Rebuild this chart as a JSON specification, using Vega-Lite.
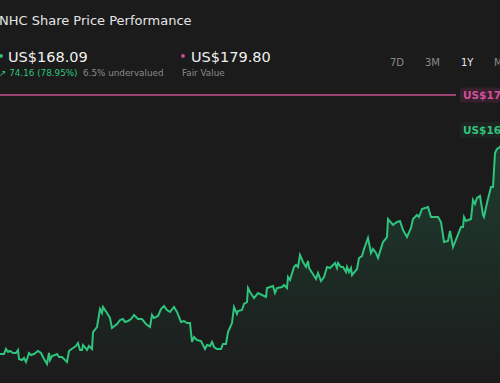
{
  "$schema": "https://vega.github.io/schema/vega-lite/v6.json",
  "width": 500,
  "height": 383,
  "padding": 0,
  "autosize": {"type": "none"},
  "background": "#1b1b1b",
  "config": {"view": {"stroke": null}, "text": {"font": "DejaVu Sans"}},
  "datasets": {
    "prices": [
      {"day":0,"price":94.27},{"day":4,"price":94.27},{"day":6,"price":95.92},{"day":8,"price":94.93},{"day":10,"price":95.26},
      {"day":13,"price":94.6},{"day":16,"price":94.6},{"day":18,"price":95.59},{"day":19,"price":92.61},{"day":22,"price":92.28},
      {"day":24,"price":92.94},{"day":26,"price":91.62},{"day":29,"price":94.6},{"day":31,"price":93.93},{"day":34,"price":94.27},
      {"day":38,"price":95.26},{"day":41,"price":94.6},{"day":44,"price":92.61},{"day":47,"price":90.96},{"day":49,"price":94.6},
      {"day":50,"price":92.28},{"day":52,"price":93.6},{"day":55,"price":93.93},{"day":57,"price":94.27},{"day":59,"price":93.27},
      {"day":62,"price":93.27},{"day":67,"price":91.62},{"day":69,"price":95.26},{"day":73,"price":96.25},{"day":76,"price":96.91},
      {"day":78,"price":97.9},{"day":80,"price":95.59},{"day":82,"price":95.59},{"day":83,"price":97.24},{"day":87,"price":95.59},
      {"day":89,"price":96.91},{"day":92,"price":95.92},{"day":93,"price":101.53},{"day":97,"price":103.18},{"day":100,"price":109.13},
      {"day":102,"price":107.81},{"day":103,"price":109.79},{"day":107,"price":107.81},{"day":110,"price":106.15},{"day":112,"price":102.85},
      {"day":117,"price":104.17},{"day":120,"price":105.49},{"day":123,"price":105.82},{"day":125,"price":104.83},{"day":128,"price":105.16},
      {"day":131,"price":105.82},{"day":134,"price":107.14},{"day":138,"price":105.82},{"day":142,"price":105.82},{"day":146,"price":104.17},
      {"day":150,"price":103.18},{"day":152,"price":107.14},{"day":154,"price":106.15},{"day":158,"price":106.81},{"day":161,"price":109.13},
      {"day":164,"price":110.12},{"day":167,"price":108.8},{"day":170,"price":108.14},{"day":174,"price":109.79},{"day":177,"price":108.14},
      {"day":181,"price":104.83},{"day":184,"price":105.16},{"day":187,"price":104.5},{"day":190,"price":104.5},{"day":192,"price":98.23},
      {"day":194,"price":99.88},{"day":197,"price":98.89},{"day":201,"price":98.56},{"day":205,"price":95.92},{"day":207,"price":97.24},
      {"day":210,"price":96.91},{"day":212,"price":98.23},{"day":214,"price":96.58},{"day":217,"price":95.92},{"day":221,"price":95.92},
      {"day":223,"price":97.57},{"day":226,"price":97.57},{"day":228,"price":101.53},{"day":232,"price":104.5},{"day":234,"price":109.79},
      {"day":237,"price":107.48},{"day":238,"price":108.47},{"day":242,"price":108.8},{"day":244,"price":110.78},{"day":247,"price":111.44},
      {"day":248,"price":116.06},{"day":250,"price":114.74},{"day":254,"price":112.76},{"day":258,"price":114.41},{"day":266,"price":113.09},
      {"day":267,"price":116.06},{"day":273,"price":116.72},{"day":275,"price":114.41},{"day":277,"price":116.06},{"day":282,"price":116.39},
      {"day":284,"price":117.05},{"day":287,"price":116.06},{"day":288,"price":119.69},{"day":290,"price":118.7},{"day":294,"price":123.0},
      {"day":296,"price":123.66},{"day":298,"price":123.0},{"day":300,"price":126.96},{"day":303,"price":124.65},{"day":306,"price":123.0},
      {"day":308,"price":124.98},{"day":309,"price":122.67},{"day":316,"price":119.03},{"day":318,"price":121.02},{"day":321,"price":118.37},
      {"day":324,"price":119.69},{"day":327,"price":123.0},{"day":330,"price":122.67},{"day":335,"price":124.32},{"day":337,"price":122.67},
      {"day":338,"price":124.32},{"day":341,"price":123.0},{"day":343,"price":123.0},{"day":346,"price":121.35},{"day":347,"price":123.0},
      {"day":349,"price":121.35},{"day":351,"price":122.67},{"day":352,"price":120.35},{"day":357,"price":122.34},{"day":359,"price":125.97},
      {"day":362,"price":126.63},{"day":364,"price":128.94},{"day":368,"price":132.57},{"day":371,"price":127.62},{"day":373,"price":128.94},
      {"day":376,"price":127.62},{"day":378,"price":125.97},{"day":383,"price":131.25},{"day":387,"price":132.9},{"day":388,"price":138.85},
      {"day":393,"price":136.87},{"day":397,"price":137.86},{"day":400,"price":138.19},{"day":403,"price":135.22},{"day":407,"price":132.9},
      {"day":411,"price":135.88},{"day":413,"price":138.85},{"day":417,"price":140.17},{"day":419,"price":139.51},{"day":422,"price":142.15},
      {"day":428,"price":142.81},{"day":431,"price":139.51},{"day":438,"price":139.51},{"day":441,"price":137.86},{"day":444,"price":131.25},
      {"day":448,"price":131.58},{"day":450,"price":134.89},{"day":453,"price":129.6},{"day":457,"price":132.9},{"day":461,"price":136.21},
      {"day":463,"price":136.21},{"day":464,"price":139.51},{"day":466,"price":138.19},{"day":471,"price":138.85},{"day":473,"price":145.12},
      {"day":475,"price":143.8},{"day":477,"price":145.78},{"day":480,"price":146.44},{"day":483,"price":140.17},{"day":484,"price":139.51},
      {"day":487,"price":144.13},{"day":491,"price":149.42},{"day":493,"price":149.42},{"day":495,"price":160.65},{"day":497,"price":161.97},
      {"day":500,"price":162.63},{"day":503,"price":164.5},{"day":506,"price":168.09}
    ]
  },
  "layer": [
    {
      "data": {"name": "prices"},
      "mark": {"type": "area", "clip": true, "color": {"gradient": "linear", "x1": 0, "y1": 0, "x2": 0, "y2": 1,
        "stops": [{"offset": 0, "color": "rgba(46,194,126,0.22)"}, {"offset": 1, "color": "rgba(46,194,126,0)"}]}},
      "encoding": {
        "x": {"field": "day", "type": "quantitative", "scale": {"domain": [0, 500], "nice": false, "zero": false}, "axis": null},
        "y": {"field": "price", "type": "quantitative", "scale": {"domain": [84.69, 211.17], "nice": false, "zero": false}, "axis": null},
        "y2": {"datum": 84.69}
      }
    },
    {
      "data": {"name": "prices"},
      "mark": {"type": "line", "clip": true, "color": "#2ec47d", "strokeWidth": 2},
      "encoding": {
        "x": {"field": "day", "type": "quantitative"},
        "y": {"field": "price", "type": "quantitative"}
      }
    },
    {
      "data": {"values": [{}]},
      "mark": {"type": "rule", "color": "#c9508f", "strokeWidth": 1.6},
      "encoding": {"x": {"datum": 0}, "x2": {"datum": 456}, "y": {"datum": 179.8}}
    },
    {
      "data": {"values": [{}]},
      "mark": {"type": "rect", "color": "#35202c", "cornerRadius": 2},
      "encoding": {"x": {"datum": 460}, "x2": {"datum": 500}, "y": {"datum": 177.3}, "y2": {"datum": 182.3}}
    },
    {
      "data": {"values": [{"label": "US$179.80"}]},
      "mark": {"type": "text", "align": "left", "baseline": "middle", "fontSize": 10.5, "fontWeight": "bold", "color": "#d0509a", "dy": 1},
      "encoding": {"x": {"datum": 463}, "y": {"datum": 179.8}, "text": {"field": "label"}}
    },
    {
      "data": {"values": [{}]},
      "mark": {"type": "rect", "color": "#1f2522", "cornerRadius": 2},
      "encoding": {"x": {"datum": 460}, "x2": {"datum": 500}, "y": {"datum": 165.6}, "y2": {"datum": 170.9}}
    },
    {
      "data": {"values": [{"label": "US$168.09"}]},
      "mark": {"type": "text", "align": "left", "baseline": "middle", "fontSize": 10.5, "fontWeight": "bold", "color": "#2ec47d", "dy": 1},
      "encoding": {"x": {"datum": 463}, "y": {"datum": 168.09}, "text": {"field": "label"}}
    },
    {
      "data": {"values": [{"label": "NHC Share Price Performance"}]},
      "mark": {"type": "text", "align": "left", "baseline": "alphabetic", "fontSize": 13, "color": "#e4e4e4", "dx": -1},
      "encoding": {"x": {"datum": 0}, "y": {"datum": 202.92}, "text": {"field": "label"}}
    },
    {
      "data": {"values": [{}]},
      "mark": {"type": "point", "filled": true, "size": 14, "color": "#2ec47d", "opacity": 1},
      "encoding": {"x": {"datum": 1}, "y": {"datum": 192.68}}
    },
    {
      "data": {"values": [{"label": "US$168.09"}]},
      "mark": {"type": "text", "align": "left", "baseline": "alphabetic", "fontSize": 14.5, "color": "#f0f0f0"},
      "encoding": {"x": {"datum": 8}, "y": {"datum": 190.7}, "text": {"field": "label"}}
    },
    {
      "data": {"values": [{"label": "↗ 74.16 (78.95%)"}]},
      "mark": {"type": "text", "align": "left", "baseline": "alphabetic", "fontSize": 8.8, "color": "#2ec47d", "dx": -1},
      "encoding": {"x": {"datum": 0}, "y": {"datum": 186.07}, "text": {"field": "label"}}
    },
    {
      "data": {"values": [{"label": "6.5% undervalued"}]},
      "mark": {"type": "text", "align": "left", "baseline": "alphabetic", "fontSize": 8.8, "color": "#8a8a8a"},
      "encoding": {"x": {"datum": 83}, "y": {"datum": 186.07}, "text": {"field": "label"}}
    },
    {
      "data": {"values": [{}]},
      "mark": {"type": "point", "filled": true, "size": 14, "color": "#d0509a", "opacity": 1},
      "encoding": {"x": {"datum": 183}, "y": {"datum": 192.68}}
    },
    {
      "data": {"values": [{"label": "US$179.80"}]},
      "mark": {"type": "text", "align": "left", "baseline": "alphabetic", "fontSize": 14.5, "color": "#f0f0f0"},
      "encoding": {"x": {"datum": 191}, "y": {"datum": 190.7}, "text": {"field": "label"}}
    },
    {
      "data": {"values": [{"label": "Fair Value"}]},
      "mark": {"type": "text", "align": "left", "baseline": "alphabetic", "fontSize": 8.8, "color": "#8a8a8a"},
      "encoding": {"x": {"datum": 182}, "y": {"datum": 186.07}, "text": {"field": "label"}}
    },
    {
      "data": {"values": [{"label": "7D"}]},
      "mark": {"type": "text", "align": "left", "baseline": "alphabetic", "fontSize": 10, "color": "#8a8a8a"},
      "encoding": {"x": {"datum": 390}, "y": {"datum": 189.38}, "text": {"field": "label"}}
    },
    {
      "data": {"values": [{"label": "3M"}]},
      "mark": {"type": "text", "align": "left", "baseline": "alphabetic", "fontSize": 10, "color": "#8a8a8a"},
      "encoding": {"x": {"datum": 425}, "y": {"datum": 189.38}, "text": {"field": "label"}}
    },
    {
      "data": {"values": [{"label": "1Y"}]},
      "mark": {"type": "text", "align": "left", "baseline": "alphabetic", "fontSize": 10, "color": "#e8e8e8"},
      "encoding": {"x": {"datum": 461}, "y": {"datum": 189.38}, "text": {"field": "label"}}
    },
    {
      "data": {"values": [{"label": "MAX"}]},
      "mark": {"type": "text", "align": "left", "baseline": "alphabetic", "fontSize": 10, "color": "#8a8a8a"},
      "encoding": {"x": {"datum": 494}, "y": {"datum": 189.38}, "text": {"field": "label"}}
    }
  ]
}
